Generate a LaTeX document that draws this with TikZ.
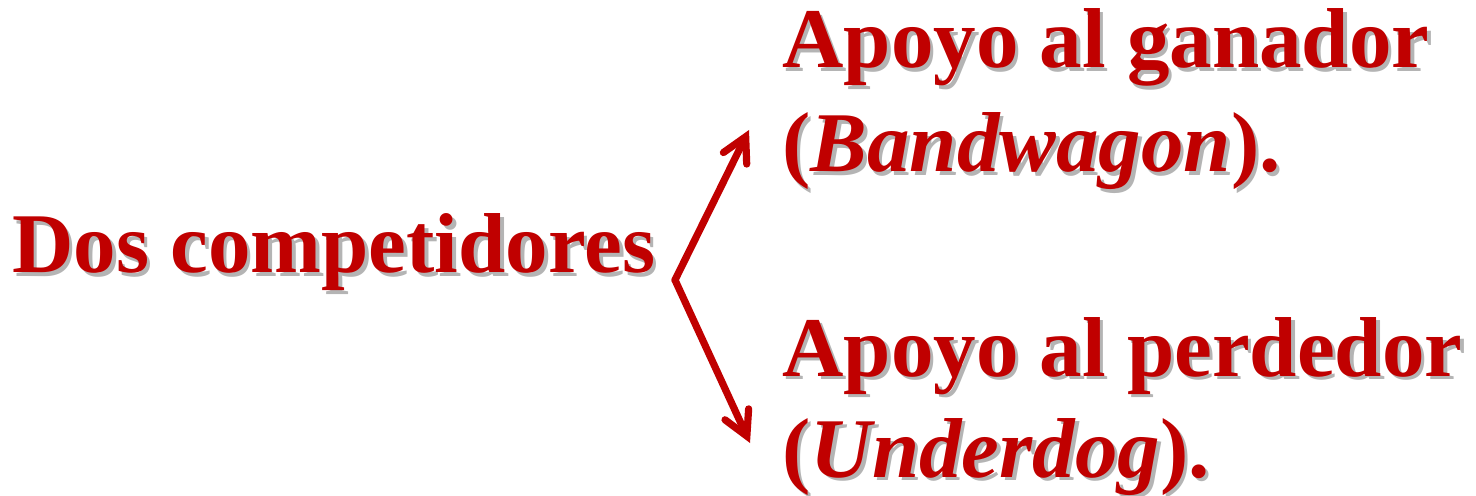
\documentclass[tikz,border=0pt]{standalone}
\usepackage{fontspec}
\setmainfont{Liberation Serif}
\usetikzlibrary{arrows.meta,calc}
\definecolor{dred}{HTML}{C00000}
\definecolor{shadowgray}{HTML}{B4B4B4}
\newcommand{\shadowlabel}[3]{%
  \node[lbl, text=shadowgray] at ($(#1)+(3.5,3.5)$) {#3};
  \node[lbl, text=dred] (#2) at (#1) {#3};
}
\begin{document}
\begin{tikzpicture}[x=0.5pt,y=-0.5pt,
  lbl/.style={inner sep=0pt, anchor=base west, font=\fontsize{42.5}{51}\selectfont\bfseries},
  arr/.style={draw=dred, line width=3.6pt, line cap=round, line join=round,
    -{Straight Barb[length=12pt,width=13pt,line cap=round]}}]
\useasboundingbox (0,0) rectangle (1476,496);
\coordinate (p1) at (12,273);
\coordinate (p2) at (782,68);
\coordinate (p3) at (782,172);
\coordinate (p4) at (782,376);
\coordinate (p5) at (782,477);
\shadowlabel{p1}{dos}{Dos competidores}
\shadowlabel{p2}{win1}{Apoyo al ganador}
\shadowlabel{p3}{win2}{(\textit{Bandwagon}).}
\shadowlabel{p4}{lose1}{Apoyo al perdedor}
\shadowlabel{p5}{lose2}{(\textit{Underdog}).}
\coordinate (v) at (675,280);
\coordinate (tu) at (749,130);
\coordinate (td) at (750,443);
\draw[arr] (v) -- (tu);
\draw[arr] (v) -- (td);
\end{tikzpicture}
\end{document}
